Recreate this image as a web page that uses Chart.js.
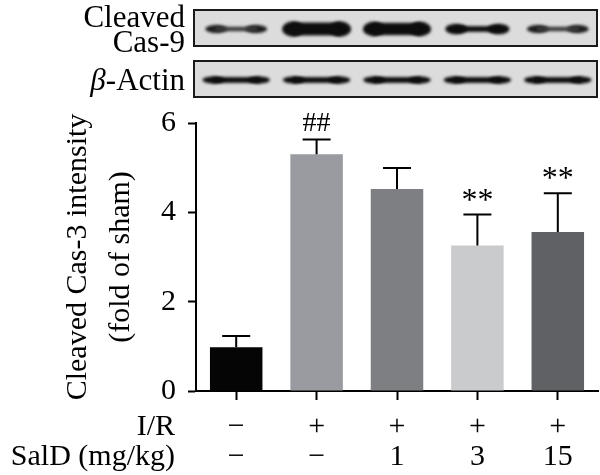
<!DOCTYPE html>
<html>
<head>
<meta charset="utf-8">
<script src="https://cdn.jsdelivr.net/npm/chart.js@4.4.1/dist/chart.umd.min.js"></script>
<style>
  html, body { margin: 0; padding: 0; background: #fff; }
</style>
</head>
<body>
<canvas id="chart" width="600" height="475"></canvas>
<script>
// data
const groups = [['−', '−'], ['+', '−'], ['+', '1'], ['+', '3'], ['+', '15']];
const rowTitles = ['I/R', 'SalD (mg/kg)'];
const means = [0.98, 5.30, 4.52, 3.26, 3.56];
const errors = [0.25, 0.33, 0.47, 0.69, 0.87];
const marks = ['', '##', '', '**', '**'];
const yTicks = [0, 2, 4, 6];
// relative band strength on the blots
const cas9Band = [0.5, 0.95, 0.9, 0.65, 0.5];
const actinBand = [0.85, 0.85, 0.85, 0.85, 0.85];

const barColors = ['#050505', '#9a9ba0', '#7e7f83', '#cacbcd', '#606164'];
const FONT = '"Liberation Serif", "DejaVu Serif", serif';

function drawPanel(ctx, xs, L, R, top, h, bands, maxH) {
  ctx.save();
  ctx.fillStyle = '#dcdcdc';
  ctx.fillRect(L, top, R - L, h);
  ctx.beginPath();
  ctx.rect(L, top, R - L, h);
  ctx.clip();
  ctx.filter = 'blur(1.6px)';
  const cy = top + h / 2 + 1;
  bands.forEach((s, i) => {
    const cx = xs.getPixelForValue(i);
    const w = 54 + 16 * s;
    const bh = maxH * s;
    const mid = s > 0.8 ? 0.85 : 0.55;
    ctx.fillStyle = s > 0.55 ? '#0d0d0d' : '#1c1c1c';
    ctx.beginPath();
    ctx.ellipse(cx - w / 2 + 11, cy, 11, bh / 2, 0, 0, Math.PI * 2);
    ctx.ellipse(cx + w / 2 - 11, cy, 11, bh / 2, 0, 0, Math.PI * 2);
    ctx.fill();
    ctx.fillStyle = s > 0.55 ? '#0d0d0d' : '#3a3a3a';
    ctx.fillRect(cx - w / 2 + 10, cy - bh * mid / 2, w - 20, bh * mid);
  });
  ctx.restore();
  ctx.save();
  ctx.strokeStyle = '#1a1a1a';
  ctx.lineWidth = 2;
  ctx.strokeRect(L, top, R - L, h);
  ctx.restore();
}

const blotPlugin = {
  id: 'blot',
  afterDraw(chart) {
    const { ctx, chartArea: a, scales: { x } } = chart;
    const L = a.left - 2, R = a.right - 1;
    drawPanel(ctx, x, L, R, 10, 36, cas9Band, 16);
    drawPanel(ctx, x, L, R, 61, 36, actinBand, 8);

    ctx.save();
    ctx.fillStyle = '#000';
    ctx.textAlign = 'right';
    ctx.textBaseline = 'alphabetic';
    ctx.font = '31px ' + FONT;
    const tx = L - 9;
    ctx.fillText('Cleaved', tx, 27);
    ctx.fillText('Cas-9', tx, 52);
    ctx.fillText('-Actin', tx, 90);
    const w = ctx.measureText('-Actin').width;
    ctx.font = 'italic 31px ' + FONT;
    ctx.fillText('β', tx - w, 90);
    ctx.restore();

    // row titles for the two label lines under the x axis
    const opts = x.options;
    const lh = opts.ticks.font.size * opts.ticks.font.lineHeight;
    const y0 = x.top + opts.grid.tickLength + opts.ticks.padding + lh / 2;
    ctx.save();
    ctx.fillStyle = '#000';
    ctx.font = '30px ' + FONT;
    ctx.textAlign = 'right';
    ctx.textBaseline = 'middle';
    rowTitles.forEach((t, i) => ctx.fillText(t, a.left - 21, y0 + i * lh));
    ctx.restore();
  }
};

const errPlugin = {
  id: 'err',
  afterDatasetsDraw(chart) {
    const { ctx, scales: { x, y } } = chart;
    ctx.save();
    ctx.strokeStyle = '#000';
    ctx.lineWidth = 2;
    means.forEach((m, i) => {
      const cx = x.getPixelForValue(i);
      const y0 = y.getPixelForValue(m);
      const y1 = y.getPixelForValue(m + errors[i]);
      ctx.beginPath();
      ctx.moveTo(cx, y0);
      ctx.lineTo(cx, y1);
      ctx.moveTo(cx - 14, y1);
      ctx.lineTo(cx + 14, y1);
      ctx.stroke();
      if (marks[i]) {
        const star = marks[i][0] === '*';
        ctx.fillStyle = '#000';
        ctx.textAlign = 'center';
        ctx.textBaseline = 'alphabetic';
        ctx.font = (star ? '32px ' : '28px ') + FONT;
        ctx.fillText(marks[i], cx, y1 - (star ? 5 : 9));
      }
    });
    ctx.restore();
  }
};

new Chart(document.getElementById('chart'), {
  type: 'bar',
  data: {
    labels: groups,
    datasets: [{
      data: means,
      backgroundColor: barColors,
      borderWidth: 0,
      categoryPercentage: 1,
      barPercentage: 0.653
    }]
  },
  options: {
    responsive: false,
    animation: false,
    layout: { padding: { top: 123, right: 2, left: 0, bottom: 0 } },
    plugins: { legend: { display: false }, tooltip: { enabled: false } },
    scales: {
      x: {
        offset: true,
        grid: { offset: false, drawOnChartArea: false, drawTicks: true, tickLength: 9, tickWidth: 2, tickColor: '#000' },
        border: { color: '#000', width: 2 },
        ticks: { color: '#000', padding: 12, maxRotation: 0, autoSkip: false,
                 font: { family: FONT, size: 30, lineHeight: 1 } },
        afterFit(s) { s.height = 84; }
      },
      y: {
        min: 0,
        max: 6,
        afterBuildTicks(s) { s.ticks = yTicks.map(v => ({ value: v })); },
        grid: { drawOnChartArea: false, tickLength: 8, tickWidth: 2, tickColor: '#000' },
        border: { color: '#000', width: 2 },
        ticks: { color: '#000', padding: 12, font: { family: FONT, size: 30 } },
        title: {
          display: true,
          text: ['Cleaved Cas-3 intensity', '(fold of sham)'],
          color: '#000',
          font: { family: FONT, size: 30, lineHeight: 1.43 },
          padding: { top: 57, bottom: 0 }
        },
        afterFit(s) { s.width = 196; }
      }
    }
  },
  plugins: [errPlugin, blotPlugin]
});
</script>
</body>
</html>
